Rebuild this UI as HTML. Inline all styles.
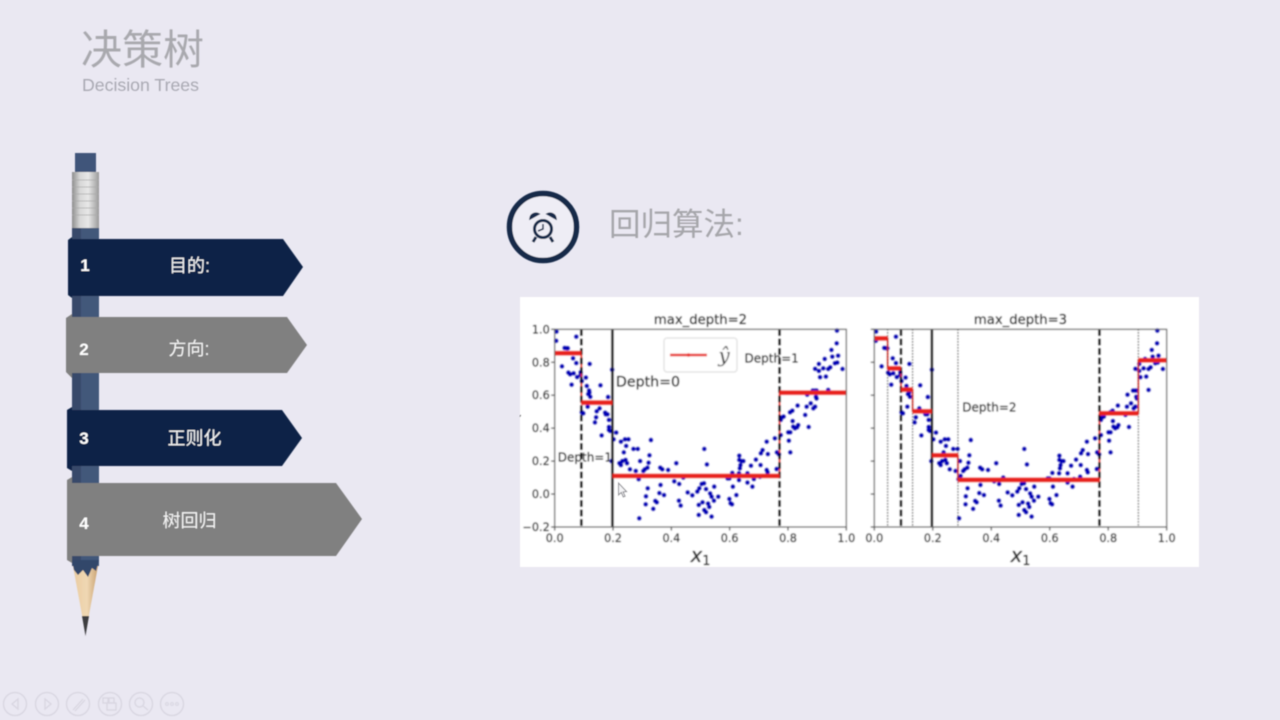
<!DOCTYPE html>
<html lang="zh">
<head>
<meta charset="utf-8">
<title>决策树 Decision Trees</title>
<style>
html,body{margin:0;padding:0;width:1280px;height:720px;overflow:hidden;background:#eae8f2}
svg{display:block;position:absolute;left:0;top:0}
.cjk{font-family:"Liberation Sans","Noto Sans CJK SC",sans-serif}
.mpl{font-family:"DejaVu Sans",sans-serif;fill:#222}
</style>
</head>
<body>
<svg id="slide" width="1280" height="720" viewBox="0 0 1280 720" xmlns="http://www.w3.org/2000/svg">
<defs>
<linearGradient id="metal" x1="0" x2="1" y1="0" y2="0">
<stop offset="0" stop-color="#8e8e8e"/><stop offset=".3" stop-color="#d8d8d8"/><stop offset=".6" stop-color="#e8e8e8"/><stop offset="1" stop-color="#9a9a9a"/>
</linearGradient>
<linearGradient id="wood" x1="0" x2="1" y1="0" y2="0">
<stop offset="0" stop-color="#e9cba0"/><stop offset=".55" stop-color="#f0d8b4"/><stop offset="1" stop-color="#c9a272"/>
</linearGradient>
<filter id="soft" x="-5%" y="-5%" width="110%" height="110%"><feGaussianBlur stdDeviation="0.4"/></filter>
</defs>

<rect width="1280" height="720" fill="#eae8f2"/>

<g filter="url(#soft)">
<text x="81" y="64" class="cjk" font-size="41" fill="#a9a9ae">决策树</text>
<text x="82" y="91" font-family="'Liberation Sans',sans-serif" font-size="17.700" fill="#a9a9b2">Decision Trees</text>

<g>
<rect x="75" y="153" width="21" height="20" fill="#40557a"/>
<rect x="72" y="172" width="27" height="56" fill="url(#metal)"/>
<g stroke="#aaa" stroke-width="1" opacity=".7">
<line x1="72" x2="99" y1="180" y2="180"/><line x1="72" x2="99" y1="187" y2="187"/><line x1="72" x2="99" y1="194" y2="194"/><line x1="72" x2="99" y1="201" y2="201"/><line x1="72" x2="99" y1="208" y2="208"/><line x1="72" x2="99" y1="215" y2="215"/>
</g>
<rect x="72" y="228" width="27" height="338" fill="#43587a"/>
<rect x="72" y="228" width="9" height="338" fill="#37496a"/>
<polygon points="73,566 98,566 85.5,634" fill="url(#wood)"/>
<polygon points="72,560 99,560 96,571 92,568 88,577 83,570 78,575 74,570" fill="#33466a"/>
<polygon points="82,616 89,616 85.5,636" fill="#3c3c40"/>
</g>

<g>
<polygon points="72,237 72,239 283,239 303,267 283,296 72,296 72,298 68,295 68,240" fill="#0a2447"/>
<text x="85" y="271" font-family="'Liberation Sans',sans-serif" font-weight="700" font-size="17" fill="#fff" text-anchor="middle">1</text>
<text x="189.500" y="272" class="cjk" font-size="18" fill="#f4f4f4" text-anchor="middle">目的:</text>
</g>
<g>
<polygon points="72,314 72,317 287,317 307,345 287,373 72,373 72,378 66,372 66,318" fill="#808080"/>
<text x="84" y="355" font-family="'Liberation Sans',sans-serif" font-weight="700" font-size="17" fill="#fff" text-anchor="middle">2</text>
<text x="189" y="355" class="cjk" font-size="18" fill="#f4f4f4" text-anchor="middle">方向:</text>
</g>
<g>
<polygon points="72,407 72,410 282,410 302,438 282,466 72,466 72,471 67,468 67,410" fill="#0a2447"/>
<text x="84" y="444" font-family="'Liberation Sans',sans-serif" font-weight="700" font-size="17" fill="#fff" text-anchor="middle">3</text>
<text x="194.500" y="444.500" class="cjk" font-size="18" fill="#f4f4f4" text-anchor="middle">正则化</text>
</g>
<g>
<polygon points="72,477 72,483 336,483 362,519 336,556 72,556 72,563 67,560 67,480" fill="#808080"/>
<text x="84" y="529" font-family="'Liberation Sans',sans-serif" font-weight="700" font-size="17" fill="#fff" text-anchor="middle">4</text>
<text x="189.500" y="527" class="cjk" font-size="18" fill="#f4f4f4" text-anchor="middle">树回归</text>
</g>

<g>
<circle cx="543" cy="227" r="33.500" fill="#eeedf5" stroke="#14294a" stroke-width="5.500"/>
<g fill="none" stroke="#14294a">
<circle cx="543" cy="229" r="8.500" stroke-width="3"/>
<path d="M530,219 a6,6 0 0 1 9,-5 z" fill="#14294a" stroke-width="1.500"/>
<path d="M556,219 a6,6 0 0 0 -9,-5 z" fill="#14294a" stroke-width="1.500"/>
<path d="M536,237 l-3,5 M550,237 l3,5" stroke-width="3"/>
<path d="M543,224 v5 l-5,2" stroke-width="1.500"/>
</g>
</g>
<text x="609" y="235" class="cjk" font-size="31.500" fill="#a6a6aa">回归算法:</text>

<g id="controls" opacity=".9">
<g fill="none" stroke="#d6d4df" stroke-width="1.300">
<g><circle cx="15" cy="704" r="11.500"/><path d="M18,699 l-6,5 l6,5 z"/></g>
<g><circle cx="47" cy="704" r="11.500"/><path d="M45,699 l6,5 l-6,5 z"/></g>
<g><circle cx="78" cy="704" r="11.500"/><path d="M73,710 l10,-11 M75,711 l10,-11" /></g>
<g><circle cx="110" cy="704" r="11.500"/><rect x="103" y="698" width="5" height="5"/><rect x="109" y="698" width="5" height="5"/><rect x="107" y="703" width="9" height="7"/></g>
<g><circle cx="141" cy="704" r="11.500"/><circle cx="139.500" cy="702.500" r="4.500"/><path d="M143,706 l5,4"/></g>
<g><circle cx="172" cy="704" r="11.500"/><circle cx="167" cy="704" r="1.400" stroke-width="1"/><circle cx="172" cy="704" r="1.400" stroke-width="1"/><circle cx="177" cy="704" r="1.400" stroke-width="1"/></g>
</g>
</g>

<g id="figure">
<rect x="520" y="297" width="679" height="270" fill="#ffffff"/>
<text x="519" y="416" class="mpl" font-size="9">,</text>
</g>
</g>
</svg>

<script>
// Training sample shared by both panels
const sampleX = [.006,.005,.025,.034,.041,.045,.074,.063,.074,.047,.053,.065,.058,.077,.089,.089,.12,.107,.093,.11,.118,.119,.122,.115,.157,.197,.183,.093,.098,.113,.154,.144,.173,.181,.175,.142,.138,.186,.161,.186,.186,.19,.202,.211,.227,.241,.253,.245,.237,.27,.285,.33,.325,.293,.195,.222,.227,.232,.243,.248,.258,.278,.322,.318,.309,.304,.295,.288,.362,.369,.389,.417,.29,.319,.313,.312,.345,.35,.338,.359,.363,.375,.41,.427,.441,.426,.432,.456,.472,.489,.496,.504,.512,.513,.522,.519,.533,.547,.538,.546,.561,.494,.507,.526,.53,.494,.513,.519,.538,.593,.599,.609,.611,.623,.599,.603,.608,.632,.632,.633,.633,.641,.647,.637,.635,.661,.661,.678,.683,.673,.69,.707,.713,.706,.727,.731,.727,.73,.704,.755,.762,.769,.761,.775,.775,.778,.785,.801,.808,.803,.808,.807,.815,.816,.818,.824,.831,.835,.833,.859,.864,.878,.871,.866,.885,.893,.898,.887,.893,.898,.896,.906,.893,.906,.91,.926,.921,.93,.938,.945,.938,.949,.952,.972,.967,.961,.969,.968,.987];
const sampleY = [.986,.93,.775,.887,.885,.885,.955,.824,.795,.737,.727,.733,.664,.71,.739,.723,.79,.707,.686,.656,.628,.616,.59,.607,.66,.755,.589,.496,.49,.53,.52,.502,.494,.484,.484,.466,.435,.45,.356,.407,.389,.383,.332,.373,.318,.332,.332,.292,.253,.274,.274,.328,.235,.2,.2,.187,.176,.2,.207,.187,.15,.14,.19,.16,.15,.14,.11,.09,.16,.15,.146,.187,-.147,.035,-.014,-.062,-.042,-.05,-.09,.006,.055,-.006,.077,.061,.1,-.04,-.07,.01,-.008,.015,.035,.061,.065,.274,.18,.03,.004,.045,-.016,-.04,-.016,-.066,-.05,-.058,-.078,-.127,-.097,-.11,-.137,.095,.095,.128,.045,-.006,-.03,-.056,-.062,.126,.085,.233,.207,.2,.2,.176,.156,.126,.07,.045,.091,.172,.209,.247,.267,.176,.318,.243,.146,.132,.105,.338,.253,.241,.152,.358,.45,.464,.47,.375,.375,.324,.253,.496,.506,.443,.409,.399,.405,.419,.537,.48,.53,.551,.407,.603,.628,.628,.628,.52,.53,.58,.59,.79,.76,.747,.709,.82,.763,.713,.759,.769,.632,.875,.834,.84,.915,.794,.798,.992,.759];

// Tree predictions: split thresholds and leaf values
const leftSplits = [.0914,.198,.771];
const leftValues = [.855,.555,.11,.615];
const rightSplits = [.0456,.0912,.131,.197,.286,.77,.903];
const rightValues = [.945,.763,.634,.502,.235,.086,.49,.812];

// Depth boundary lines
const leftDepth0 = [.198];
const leftDepth1 = [.0914,.771];
const rightDepth0 = [.197];
const rightDepth1 = [.0912,.77];
const rightDepth2 = [.0456,.131,.286,.903];

// Axis ticks
const tickValuesX = [0,.2,.4,.6,.8,1];
const tickLabelsX = ['0.0','0.2','0.4','0.6','0.8','1.0'];
const tickValuesY = [-.2,0,.2,.4,.6,.8,1];
const tickLabelsY = ['\u22120.2','0.0','0.2','0.4','0.6','0.8','1.0'];

const SVGNS = 'http://www.w3.org/2000/svg';
const figure = document.getElementById('figure');

function mk(tag, parent) {
  const el = document.createElementNS(SVGNS, tag);
  parent.appendChild(el);
  return el;
}
function setAll(el, attrs) {
  for (const k in attrs) el.setAttribute(k, attrs[k]);
  return el;
}
function label(parent, str, x, y, size, anchor) {
  const t = mk('text', parent);
  t.setAttribute('class', 'mpl');
  setAll(t, {x: x, y: y, 'font-size': size, 'text-anchor': anchor});
  t.textContent = str;
  return t;
}

function drawPanel(name, left, right, top, bottom, splits, values, depth0, depth1, depth2, showYLabels, title) {
  const sx = v => left + v * (right - left);
  const sy = v => bottom - (v + .2) / 1.2 * (bottom - top);

  const g = mk('g', figure);
  
  
  g.setAttribute('filter', 'url(#soft)');

  // data points
  sampleX.forEach((xv, i) => {
    const c = mk('circle', g);
    
    
    setAll(c, {cx: sx(xv), cy: sy(sampleY[i]), r: 2.2, fill: '#0000b4'});
  });

  // prediction steps (thin connecting line sits under the boundary lines)
  const edges = [0].concat(splits, [1]);
  let d = '';
  values.forEach((v, i) => {
    d += (i ? 'L' : 'M') + sx(edges[i]) + ',' + sy(v) + 'L' + sx(edges[i + 1]) + ',' + sy(v);
  });
  const step = mk('path', g);
  
  
  setAll(step, {d: d, fill: 'none', stroke: '#e8281e', 'stroke-width': 1.6});

  // depth lines
  const vline = (v, width, dash, color, nm) => {
    const l = mk('line', g);
    
    
    setAll(l, {x1: sx(v), x2: sx(v), y1: sy(1), y2: sy(-.2), stroke: color, 'stroke-width': width});
    if (dash) l.setAttribute('stroke-dasharray', dash);
  };
  depth2.forEach(v => vline(v, 1, '1.200 1.800', '#222', 'depth-2-boundary'));
  depth1.forEach(v => vline(v, 2.2, '6.500 3', '#000', 'depth-1-boundary'));
  depth0.forEach(v => vline(v, 2.2, '', '#111', 'depth-0-boundary'));

  // leaves
  values.forEach((v, i) => {
    const seg = mk('line', g);
    
    
    setAll(seg, {x1: sx(edges[i]), x2: sx(edges[i + 1]), y1: sy(v), y2: sy(v), stroke: '#e8241a', 'stroke-width': 4.4});
  });

  // frame
  const frame = mk('rect', g);
  
  
  setAll(frame, {x: left, y: top, width: right - left, height: bottom - top, fill: 'none', stroke: '#555', 'stroke-width': 1});

  // ticks
  tickValuesX.forEach((v, i) => {
    const t = mk('line', g);
    
    
    setAll(t, {x1: sx(v), x2: sx(v), y1: bottom, y2: bottom + 3.5, stroke: '#444', 'stroke-width': 1});
    const lb = label(g, tickLabelsX[i], sx(v), bottom + 15, 11.2, 'middle');
    
    
  });
  tickValuesY.forEach((v, i) => {
    const t = mk('line', g);
    
    
    setAll(t, {x1: left - 3.5, x2: left, y1: sy(v), y2: sy(v), stroke: '#444', 'stroke-width': 1});
    if (showYLabels) {
      const lb = label(g, tickLabelsY[i], left - 5, sy(v) + 4, 11.2, 'end');
      
      
    }
  });

  const tt = label(g, title, (left + right) / 2, top - 5.5, 13.2, 'middle');
  
  

  const xl = mk('text', g);
  
  
  setAll(xl, {x: (left + right) / 2, y: 562, 'text-anchor': 'middle', fill: '#222', 'font-family': '"DejaVu Sans",sans-serif'});
  const xa = mk('tspan', xl);
  setAll(xa, {'font-style': 'italic', 'font-size': 20});
  xa.textContent = 'x';
  const xb = mk('tspan', xl);
  setAll(xb, {'font-size': 13, dy: 3});
  xb.textContent = '1';

  return {g: g, sx: sx, sy: sy};
}

const left = drawPanel('left-panel-max-depth-2', 554.7, 846.3, 329.3, 527, leftSplits, leftValues, leftDepth0, leftDepth1, [], true, 'max_depth=2');
const right = drawPanel('right-panel-max-depth-3', 874.3, 1166.7, 329.3, 527, rightSplits, rightValues, rightDepth0, rightDepth1, rightDepth2, false, 'max_depth=3');

// annotations
let a = label(left.g, 'Depth=0', left.sx(.21), left.sy(.652), 14.2, 'start');


a = label(left.g, 'Depth=1', left.sx(.651), left.sy(.8), 12, 'start');


a = label(left.g, 'Depth=1', left.sx(.0105), left.sy(.197), 12, 'start');


a = label(right.g, 'Depth=2', right.sx(.301), right.sy(.5), 12, 'start');



// legend
const legend = mk('g', left.g);


const box = mk('rect', legend);


setAll(box, {x: 664, y: 338, width: 73, height: 34, rx: 3, fill: '#fff', stroke: '#d8d8d8', 'stroke-width': 1});
const lline = mk('line', legend);


setAll(lline, {x1: 670, x2: 707, y1: 355, y2: 355, stroke: '#e8241a', 'stroke-width': 2.4});
const ldot = mk('circle', legend);


setAll(ldot, {cx: 688.5, cy: 355, r: 1.8, fill: '#e8241a'});
const ltext = mk('text', legend);


setAll(ltext, {x: 724, y: 362, 'text-anchor': 'middle', 'font-size': 20, 'font-style': 'italic', fill: '#222', 'font-family': '"DejaVu Serif",serif'});
ltext.textContent = '\u0177';

// mouse cursor
const cursor = mk('path', figure);


setAll(cursor, {d: 'M618.500,483 v12 l2.800,-2.500 l2,4.500 l1.800,-.8 l-2,-4.300 l3.500,-.3 z', fill: '#f4f4f6', stroke: '#8a8a90', 'stroke-width': 1});
</script>
</body>
</html>
